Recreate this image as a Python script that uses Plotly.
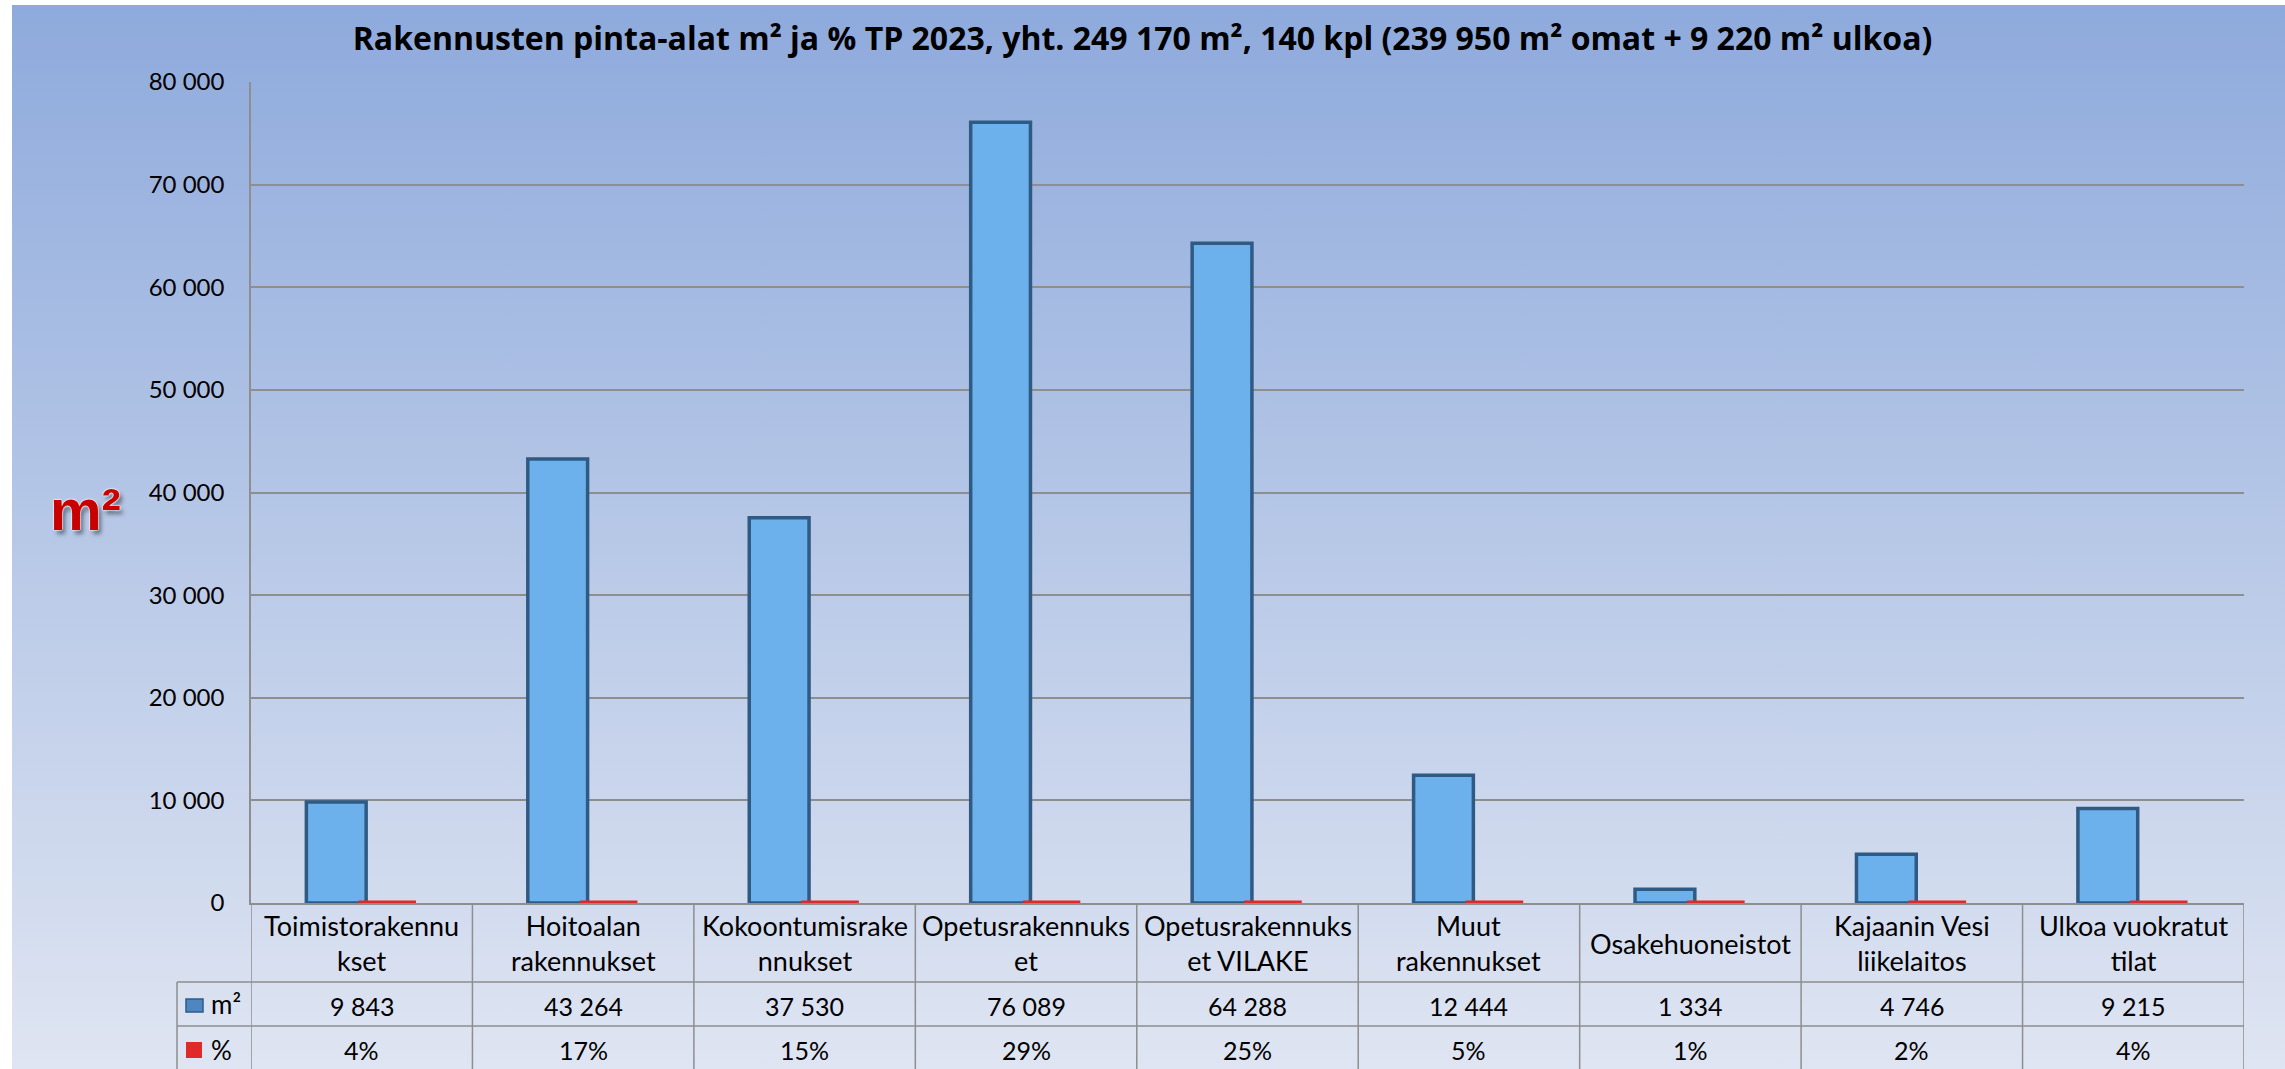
import base64
import plotly.graph_objects as go

# ---------------- data ----------------
categories = ["Toimistorakennukset", "Hoitoalan rakennukset", "Kokoontumisrakennukset",
              "Opetusrakennukset", "Opetusrakennukset VILAKE", "Muut rakennukset",
              "Osakehuoneistot", "Kajaanin Vesi liikelaitos", "Ulkoa vuokratut tilat"]
category_labels = ["Toimistorakennu<br>kset", "Hoitoalan<br>rakennukset", "Kokoontumisrake<br>nnukset",
                   "Opetusrakennuks<br>et", "Opetusrakennuks<br>et VILAKE", "Muut<br>rakennukset",
                   "Osakehuoneistot", "Kajaanin Vesi<br>liikelaitos", "Ulkoa vuokratut<br>tilat"]
area_m2 = [9843, 43264, 37530, 76089, 64288, 12444, 1334, 4746, 9215]
share_pct = [4, 17, 15, 29, 25, 5, 1, 2, 4]
y_ticks = [0, 10000, 20000, 30000, 40000, 50000, 60000, 70000, 80000]
title_text = "Rakennusten pinta-alat m² ja % TP 2023, yht. 249 170 m², 140 kpl (239 950 m² omat + 9 220 m² ulkoa)"

# ---------------- geometry ----------------
W, H = 2285, 1069
L, R, T, B = 251, 41, 82, 166
PW, PH = W - L - R, H - T - B


def px_x(p):
    return (p - L) / PW


def px_y(p):
    return (H - B - p) / PH


GRID = "#8E8E8E"
FONT = "Lato, 'Open Sans', sans-serif"

fig = go.Figure()
fig.add_trace(go.Bar(
    x=categories, y=area_m2, name="m²", width=0.27, offset=-0.25,
    marker=dict(color="#6CB0EC", line=dict(color="#2F5A84", width=3.5)),
))
fig.add_trace(go.Bar(
    x=categories, y=[p / 100 for p in share_pct], name="%", width=0.26, offset=-0.015,
    cliponaxis=False,
    marker=dict(color="#E02A2A", line=dict(color="#E02A2A", width=5)),
))

# background gradient
svg = ("<svg xmlns='http://www.w3.org/2000/svg' width='100' height='100' preserveAspectRatio='none'>"
       "<defs><linearGradient id='g' x1='0' y1='0' x2='0' y2='1'>"
       "<stop offset='0' stop-color='#8EAADC'/>"
       "<stop offset='0.45' stop-color='#B3C5E6'/>"
       "<stop offset='1' stop-color='#DFE5F2'/>"
       "</linearGradient></defs><rect width='100' height='100' fill='url(#g)'/></svg>")
src = "data:image/svg+xml;base64," + base64.b64encode(svg.encode()).decode()
bx0, by0 = 12, 5
fig.add_layout_image(dict(source=src, xref="paper", yref="paper",
                          x=px_x(bx0), y=px_y(by0), sizex=px_x(W) - px_x(bx0),
                          sizey=px_y(by0) - px_y(H), xanchor="left", yanchor="top",
                          sizing="stretch", layer="below"))

shapes = []
n = len(categories)
y_bot = px_y(H)
y_row1 = px_y(982)
y_row2 = px_y(1026)
x_hdr = px_x(177)
# vertical table lines
for i in range(n + 1):
    shapes.append(dict(type="line", xref="x", yref="paper", x0=i - 0.5, x1=i - 0.5,
                       y0=y_bot, y1=0, line=dict(color=GRID, width=1.5)))
shapes.append(dict(type="line", xref="paper", yref="paper", x0=x_hdr, x1=x_hdr,
                   y0=y_bot, y1=y_row1, line=dict(color=GRID, width=1.5)))
for yy in (y_row1, y_row2):
    shapes.append(dict(type="line", xref="paper", yref="paper", x0=x_hdr, x1=px_x(L + PW),
                       y0=yy, y1=yy, line=dict(color=GRID, width=1.5)))
# legend keys in row headers
shapes.append(dict(type="rect", xref="paper", yref="paper", x0=px_x(186), x1=px_x(203),
                   y0=px_y(1012), y1=px_y(999), fillcolor="#4E87C0",
                   line=dict(color="#2E5C8A", width=1.5)))
shapes.append(dict(type="rect", xref="paper", yref="paper", x0=px_x(186), x1=px_x(202),
                   y0=px_y(1058), y1=px_y(1042), fillcolor="#E02A2A", line=dict(width=0)))

ann = []
for c, lab, v, p in zip(categories, category_labels, area_m2, share_pct):
    ann.append(dict(x=c, xref="x", y=px_y(943), yref="paper", text=lab, showarrow=False,
                    xanchor="center", yanchor="middle", font=dict(family=FONT, size=27, color="black")))
    ann.append(dict(x=c, xref="x", y=px_y(1006), yref="paper", text=f"{v:,}".replace(",", " "),
                    showarrow=False, xanchor="center", yanchor="middle",
                    font=dict(family=FONT, size=25, color="black")))
    ann.append(dict(x=c, xref="x", y=px_y(1050), yref="paper", text=f"{p}%",
                    showarrow=False, xanchor="center", yanchor="middle",
                    font=dict(family=FONT, size=25, color="black")))
ann.append(dict(x=px_x(209), xref="paper", y=px_y(1004), yref="paper", text="m²", showarrow=False,
                xanchor="left", yanchor="middle", font=dict(family=FONT, size=26, color="black")))
ann.append(dict(x=px_x(209), xref="paper", y=px_y(1050), yref="paper", text="%", showarrow=False,
                xanchor="left", yanchor="middle", font=dict(family=FONT, size=26, color="black")))
ann.append(dict(x=px_x(85), xref="paper", y=px_y(509), yref="paper", text="m²", showarrow=False,
                xanchor="center", yanchor="middle",
                font=dict(family="'Liberation Sans', Arial, sans-serif", size=58, color="#C80000",
                          weight="bold",
                          shadow="0 0 2px #ffffff, 0 0 2px #ffffff, 0 0 1px #ffffff, 3px 4px 4px rgba(0,0,0,0.45)")))

fig.update_layout(
    width=W, height=H,
    margin=dict(l=L, r=R, t=T, b=B, pad=0),
    paper_bgcolor="white", plot_bgcolor="rgba(0,0,0,0)",
    barmode="overlay", showlegend=False, separators=", ",
    title=dict(text=title_text, x=0.5, xref="container", xanchor="center",
               y=1 - 38.5 / H, yref="container", yanchor="middle",
               font=dict(family="'Open Sans', Lato, sans-serif", size=32, color="black", weight="bold")),
    xaxis=dict(type="category", range=[-0.5, n - 0.5], showticklabels=False, showgrid=False,
               zeroline=False, showline=True, linecolor=GRID, linewidth=1.5, fixedrange=True),
    yaxis=dict(range=[0, 80000], tickvals=y_ticks, tickformat=",d", showgrid=True,
               gridcolor=GRID, gridwidth=1.5, zeroline=False, showline=True, linecolor=GRID,
               linewidth=1.5, ticks="", ticklabelstandoff=20,
               tickfont=dict(family=FONT, size=24, color="black"), fixedrange=True),
    shapes=shapes, annotations=ann,
)

fig.write_html("out.html", config={"displayModeBar": False},
               post_script="document.body.style.margin='0';document.body.style.overflow='hidden';")
